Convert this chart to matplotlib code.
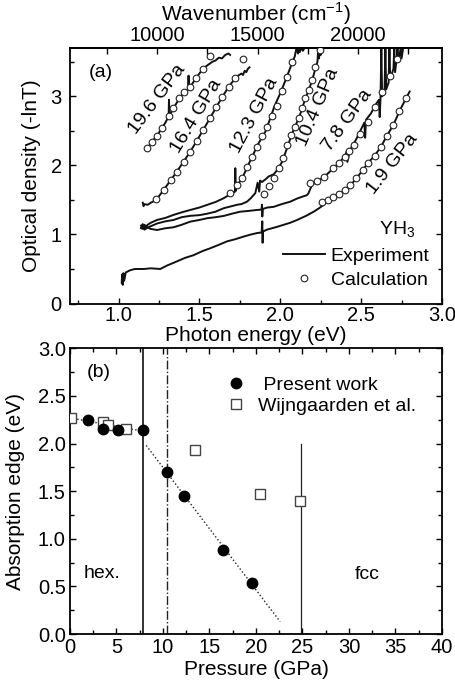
import matplotlib
matplotlib.use("Agg")
import matplotlib.pyplot as plt
from matplotlib.ticker import MultipleLocator, FormatStrFormatter

plt.rcParams['font.family'] = ['Liberation Sans', 'DejaVu Sans']
plt.rcParams['mathtext.fontset'] = 'custom'
plt.rcParams['mathtext.rm'] = 'Liberation Sans'
plt.rcParams['font.size'] = 14

# ---- panel (a): optical density spectra ----
# experiment, 1.9 GPa
e19_x = [1.02, 1.022, 1.026, 1.03, 1.035, 1.045, 1.07, 1.10, 1.155, 1.20, 1.258, 1.30, 1.361, 1.41,
         1.464, 1.52, 1.567, 1.62, 1.671, 1.72, 1.774, 1.82, 1.856, 1.885, 1.889, 1.891, 1.893, 1.90,
         1.918, 1.98, 2.062, 2.104, 2.16, 2.207, 2.24, 2.269, 2.30, 2.35, 2.40, 2.44, 2.47, 2.51, 2.54,
         2.58, 2.62, 2.66, 2.70, 2.74, 2.78, 2.80]
e19_y = [0.30, 0.42, 0.27, 0.44, 0.33, 0.45, 0.48, 0.50, 0.50, 0.51, 0.50, 0.55, 0.61, 0.66,
         0.70, 0.76, 0.80, 0.85, 0.90, 0.93, 0.97, 1.00, 1.02, 1.03, 1.19, 0.88, 1.04, 1.05,
         1.07, 1.11, 1.17, 1.21, 1.27, 1.33, 1.38, 1.43, 1.50, 1.56, 1.645, 1.73, 1.81, 1.93, 2.03,
         2.13, 2.26, 2.43, 2.59, 2.80, 2.98, 3.07]
# experiment, 7.8 GPa
e78_x = [1.14, 1.15, 1.16, 1.18, 1.20, 1.238, 1.29, 1.34, 1.39, 1.444, 1.50, 1.547, 1.60, 1.65, 1.70,
         1.753, 1.80, 1.856, 1.884, 1.887, 1.889, 1.892, 1.92, 1.959, 2.01, 2.062, 2.104, 2.14, 2.166,
         2.175, 2.197, 2.23, 2.27, 2.32, 2.36, 2.40, 2.41, 2.415, 2.43, 2.47, 2.52, 2.525, 2.53, 2.56,
         2.59, 2.61, 2.615, 2.62, 2.625, 2.63, 2.645, 2.65, 2.655, 2.67, 2.675, 2.68, 2.70, 2.705, 2.71,
         2.72, 2.725, 2.73, 2.745, 2.75, 2.76]
e78_y = [1.09, 1.12, 1.07, 1.10, 1.08, 1.065, 1.09, 1.104, 1.14, 1.186, 1.21, 1.235, 1.25, 1.268, 1.30,
         1.33, 1.34, 1.355, 1.36, 1.43, 1.26, 1.37, 1.39, 1.40, 1.44, 1.475, 1.52, 1.55, 1.57,
         1.60, 1.72, 1.77, 1.83, 1.94, 2.03, 2.13, 2.20, 2.05, 2.22, 2.38, 2.62, 2.40, 2.66, 2.75,
         2.88, 2.95, 2.70, 2.98, 3.70, 3.00, 3.10, 3.70, 3.10, 3.20, 3.70, 3.25, 3.40, 3.70, 3.35,
         3.55, 3.70, 3.50, 3.70, 3.55, 3.70]
# experiment, 10.4 GPa
e104_x = [1.14, 1.15, 1.16, 1.18, 1.20, 1.24, 1.29, 1.34, 1.39, 1.444, 1.50, 1.547, 1.60, 1.65, 1.70,
          1.733, 1.76, 1.795, 1.82, 1.846, 1.86, 1.87, 1.875, 1.887, 1.91, 1.928, 1.959, 1.98, 2.011,
          2.042, 2.067, 2.089, 2.114, 2.135, 2.155, 2.176, 2.197, 2.217, 2.23, 2.235, 2.24, 2.245,
          2.25, 2.255]
e104_y = [1.13, 1.08, 1.14, 1.10, 1.12, 1.16, 1.19, 1.21, 1.25, 1.27, 1.28, 1.30, 1.33, 1.38, 1.41,
          1.43, 1.44, 1.475, 1.53, 1.60, 1.75, 1.62, 1.78, 1.76, 1.80, 1.84, 1.87, 1.93, 2.05,
          2.25, 2.42, 2.55, 2.68, 2.82, 2.97, 3.09, 3.23, 3.40, 3.50, 3.70, 3.55, 3.70,
          3.60, 3.70]
# experiment, 12.3 GPa
e123_x = [1.14, 1.15, 1.16, 1.18, 1.20, 1.238, 1.29, 1.34, 1.39, 1.444, 1.50, 1.547, 1.60, 1.65,
          1.69, 1.72, 1.722, 1.725, 1.73, 1.764, 1.795, 1.825, 1.866, 1.908, 1.935, 1.963, 2.005,
          2.04, 2.073, 2.09, 2.10, 2.11, 2.115, 2.12, 2.13, 2.14, 2.15]
e123_y = [1.10, 1.15, 1.09, 1.14, 1.17, 1.21, 1.24, 1.283, 1.32, 1.355, 1.39, 1.428, 1.47, 1.525,
          1.58, 1.62, 1.96, 1.63, 1.70, 1.81, 1.97, 2.12, 2.32, 2.49, 2.66, 2.85, 3.07,
          3.28, 3.48, 3.58, 3.70, 3.62, 3.70, 3.64, 3.70, 3.66, 3.70]
# experiment, 16.4 GPa
e164_x = [1.15, 1.155, 1.16, 1.18, 1.20, 1.233, 1.279, 1.324, 1.361, 1.402, 1.444, 1.485, 1.525,
          1.565, 1.603, 1.642, 1.681, 1.722, 1.74, 1.76, 1.77, 1.78, 1.79, 1.80, 1.81]
e164_y = [1.46, 1.41, 1.44, 1.43, 1.46, 1.50, 1.645, 1.79, 1.91, 2.055, 2.20, 2.36, 2.52,
          2.68, 2.84, 2.99, 3.14, 3.26, 3.30, 3.33, 3.31, 3.37, 3.35, 3.40, 3.42]
# experiment, 19.6 GPa
e196_x = [1.175, 1.207, 1.238, 1.268, 1.29, 1.31, 1.312, 1.315, 1.34, 1.377, 1.407, 1.43, 1.433,
          1.436, 1.444, 1.481, 1.522, 1.55, 1.58, 1.60, 1.62, 1.64, 1.66, 1.68, 1.69]
e196_y = [2.23, 2.345, 2.43, 2.54, 2.62, 2.71, 2.95, 2.72, 2.83, 2.97, 3.07, 3.10, 3.30,
          3.12, 3.14, 3.27, 3.40, 3.45, 3.50, 3.52, 3.56, 3.55, 3.60, 3.62, 3.60]

# calculation
c19_x = [2.261, 2.295, 2.329, 2.363, 2.399, 2.434, 2.471, 2.510, 2.543, 2.584, 2.624, 2.661, 2.698, 2.737, 2.776]
c19_y = [1.464, 1.493, 1.536, 1.587, 1.645, 1.717, 1.813, 1.935, 2.033, 2.138, 2.272, 2.433, 2.587, 2.79, 2.974]
c78_x = [2.186, 2.228, 2.273, 2.327, 2.361, 2.399, 2.426, 2.454, 2.496, 2.541, 2.588, 2.630, 2.677, 2.723]
c78_y = [1.751, 1.780, 1.829, 1.959, 2.032, 2.128, 2.21, 2.297, 2.452, 2.626, 2.852, 3.07, 3.297, 3.539]
c104_x = [1.897, 1.928, 1.959, 1.99, 2.015, 2.042, 2.067, 2.089, 2.114, 2.135, 2.155, 2.176, 2.197, 2.217, 2.244]
c104_y = [1.59, 1.70, 1.814, 1.959, 2.104, 2.297, 2.442, 2.562, 2.684, 2.829, 2.974, 3.094, 3.239, 3.418, 3.674]
c123_x = [1.691, 1.733, 1.764, 1.795, 1.825, 1.856, 1.887, 1.918, 1.949, 1.98, 2.01, 2.04, 2.073]
c123_y = [1.597, 1.717, 1.814, 1.983, 2.127, 2.27, 2.42, 2.56, 2.71, 2.86, 3.08, 3.28, 3.50]
c164_x = [1.233, 1.279, 1.324, 1.361, 1.402, 1.444, 1.485, 1.525, 1.565, 1.603, 1.642, 1.681, 1.722, 1.770]
c164_y = [1.51, 1.645, 1.79, 1.91, 2.055, 2.20, 2.36, 2.52, 2.68, 2.84, 2.99, 3.14, 3.26, 3.543]
c196_x = [1.175, 1.207, 1.238, 1.268, 1.31, 1.34, 1.377, 1.407, 1.444, 1.481, 1.522, 1.563]
c196_y = [2.25, 2.345, 2.43, 2.54, 2.71, 2.83, 2.97, 3.07, 3.14, 3.27, 3.40, 3.59]

# pressure labels: text, x, y, angle
press_labels = [('19.6 GPa', 1.241, 2.95, 53), ('16.4 GPa', 1.479, 2.71, 59),
                ('12.3 GPa', 1.84, 2.73, 62), ('10.4 GPa', 2.231, 2.85, 67),
                ('7.8 GPa', 2.413, 2.66, 54), ('1.9 GPa', 2.692, 2.02, 52)]

# ---- panel (b): absorption edge vs pressure ----
present_p = [1.9, 3.5, 5.2, 7.8, 10.4, 12.3, 16.4, 19.6]
present_e = [2.25, 2.15, 2.14, 2.14, 1.70, 1.45, 0.88, 0.54]
wijn_p = [0.1, 3.5, 4.1, 6.0, 13.4, 20.4, 24.7]
wijn_e = [2.27, 2.23, 2.19, 2.15, 1.93, 1.47, 1.40]
hex_fit_p = [0.0, 7.8]
hex_fit_e = [2.27, 2.13]
fcc_fit_p = [8.2, 22.6]
fcc_fit_e = [1.98, 0.13]

EV_TO_CM = 8065.54

fig = plt.figure(figsize=(4.55, 6.83), dpi=100)
ax1 = fig.add_axes([0.1538, 0.5556, 0.8176, 0.3741])
ax2 = fig.add_axes([0.1538, 0.0717, 0.8176, 0.4183])

exp_sets = [(e19_x, e19_y), (e78_x, e78_y), (e104_x, e104_y), (e123_x, e123_y),
            (e164_x, e164_y), (e196_x, e196_y)]
calc_sets = [(c19_x, c19_y), (c78_x, c78_y), (c104_x, c104_y), (c123_x, c123_y),
             (c164_x, c164_y), (c196_x, c196_y)]
for i, (xs, ys) in enumerate(exp_sets):
    ax1.plot(xs, ys, color='#111111', lw=1.4, label='Experiment' if i == 0 else None, zorder=2)
for i, (xs, ys) in enumerate(calc_sets):
    ax1.plot(xs, ys, 'o', ms=4.8, mfc='white', mec='#222222', mew=0.8,
             label='Calculation' if i == 0 else None, zorder=3)

for txt, x, y, ang in press_labels:
    ax1.text(x, y, txt, rotation=ang, ha='center', va='center', fontsize=14)

ax1.text(0.815, 3.345, '(a)', ha='left', va='center', fontsize=14)
ax1.text(2.72, 1.07, 'YH$_3$', ha='center', va='center', fontsize=14)

ax1.set_xlim(0.7, 3.0)
ax1.set_ylim(0, 3.7)
ax1.xaxis.set_minor_locator(MultipleLocator(0.25))
ax1.yaxis.set_major_locator(MultipleLocator(1))
ax1.yaxis.set_minor_locator(MultipleLocator(0.5))
ax1.set_xticks([1.0, 1.5, 2.0, 2.5, 3.0])
ax1.set_xticklabels(['1.0', '1.5', '2.0', '2.5', '3.0'])
ax1.set_xlabel('Photon energy (eV)', fontsize=15)
ax1.set_ylabel('Optical density (-lnT)', fontsize=15)
ax1.xaxis.set_label_coords(0.5, -0.088)
ax1.yaxis.set_label_coords(-0.078, 0.5)
ax1.tick_params(which='both', direction='in', right=True, top=False, width=1.0, labelsize=14.5)
ax1.tick_params(which='major', length=4)
ax1.tick_params(axis='x', which='major', pad=2)
ax1.tick_params(axis='y', which='major', pad=6)
ax1.tick_params(which='minor', length=3)

sec = ax1.secondary_xaxis('top', functions=(lambda e: e * EV_TO_CM, lambda k: k / EV_TO_CM))
sec.set_xticks([10000, 15000, 20000])
sec.xaxis.set_minor_locator(MultipleLocator(2500))
sec.tick_params(which='both', direction='in', width=1.0, labelsize=14.5)
sec.tick_params(which='major', length=4, pad=2)
sec.tick_params(which='minor', length=4)
sec.set_xlabel('Wavenumber (cm$^{-1}$)', labelpad=4, fontsize=15)

ax1.legend(loc='upper left', bbox_to_anchor=(0.5726, 0.219), frameon=False,
           handlelength=2.16, handletextpad=0.3, labelspacing=0.3,
           borderpad=0, borderaxespad=0, fontsize=14)

# panel (b)
ax2.axvline(7.8, color='#222222', lw=1.3, zorder=1)
ax2.axvline(10.4, color='#222222', lw=1.0, ls='-.', zorder=1)
ax2.plot([24.8, 24.8], [0, 2.0], color='#222222', lw=0.9, zorder=1)
ax2.plot(hex_fit_p, hex_fit_e, ':', color='#222222', lw=1.0, zorder=1)
ax2.plot(fcc_fit_p, fcc_fit_e, ':', color='#222222', lw=1.0, zorder=1)
ax2.plot(wijn_p, wijn_e, 's', ms=6.5, mfc='white', mec='#444444', mew=1.0,
         label='Wijngaarden et al.', zorder=3)
ax2.plot(present_p, present_e, 'o', ms=7.5, color='black', label=' Present work', zorder=4)

ax2.text(3.1, 2.745, '(b)', ha='center', va='center', fontsize=14)
ax2.text(1.5, 0.64, 'hex.', ha='left', va='center', fontsize=14)
ax2.text(32.0, 0.62, 'fcc', ha='center', va='center', fontsize=14)

h, l = ax2.get_legend_handles_labels()
ax2.legend([h[1], h[0]], [l[1], l[0]], loc='upper left', bbox_to_anchor=(0.419, 0.903),
           frameon=False, handlelength=1.0, handletextpad=0.65, labelspacing=0.2,
           borderpad=0, borderaxespad=0, fontsize=14)

ax2.set_xlim(0, 40)
ax2.set_ylim(0, 3.0)
ax2.xaxis.set_major_locator(MultipleLocator(5))
ax2.xaxis.set_minor_locator(MultipleLocator(2.5))
ax2.yaxis.set_major_locator(MultipleLocator(0.5))
ax2.yaxis.set_minor_locator(MultipleLocator(0.25))
ax2.yaxis.set_major_formatter(FormatStrFormatter('%.1f'))
ax2.set_xlabel('Pressure (GPa)', fontsize=15)
ax2.set_ylabel('Absorption edge (eV)', fontsize=15)
ax2.xaxis.set_label_coords(0.5, -0.09)
ax2.yaxis.set_label_coords(-0.121, 0.5)
ax2.tick_params(which='both', direction='in', right=True, top=True, width=1.0, labelsize=14.5)
ax2.tick_params(which='major', length=4, pad=3)
ax2.tick_params(which='minor', length=3)

for ax in (ax1, ax2):
    for s in ax.spines.values():
        s.set_linewidth(1.3)
sec.spines['top'].set_linewidth(1.3)

fig.savefig('out.png', dpi=100)
